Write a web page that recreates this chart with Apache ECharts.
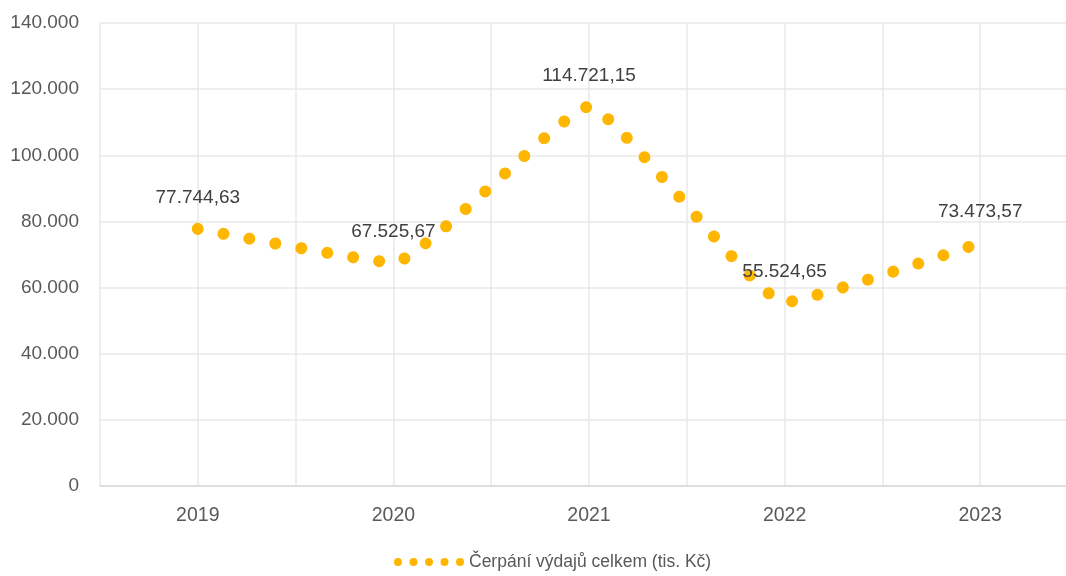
<!DOCTYPE html>
<html>
<head>
<meta charset="utf-8">
<script src="https://cdn.jsdelivr.net/npm/echarts@6/dist/echarts.min.js"></script>
<style>
  html, body { margin: 0; padding: 0; background: #fff; }
  #chart { width: 1066px; height: 576px; }
</style>
</head>
<body>
<div id="chart"></div>
<script>
// data
const years = [2019, 2020, 2021, 2022, 2023]
const spending = [77744.63, 67525.67, 114721.15, 55524.65, 73473.57]
const seriesName = 'Čerpání výdajů celkem (tis. Kč)'
const yTicks = [0, 20000, 40000, 60000, 80000, 100000, 120000, 140000]

const gold = '#FFB600'
const font = "'Liberation Sans', Arial, sans-serif"

// 140000 -> 140.000, 77744.63 -> 77.744,63
const fmtThousands = v => String(Math.round(v)).replace(/\B(?=(\d{3})+(?!\d))/g, '.')
const fmtValue = v => {
  const parts = v.toFixed(2).split('.')
  return fmtThousands(Number(parts[0])) + ',' + parts[1]
}

// five dots as legend icon
const dotsIcon = 'path://' + [4, 19.5, 35, 50.5, 66].map(cx =>
  `M${cx - 4},4a4,4 0 1,0 8,0a4,4 0 1,0 -8,0Z`).join('')

const chart = echarts.init(document.getElementById('chart'))
chart.setOption({
  animation: false,
  backgroundColor: '#fff',
  grid: { left: 100, right: -12, top: 23, bottom: 90, outerBoundsMode: 'none', containLabel: false },
  xAxis: {
    type: 'value',
    min: 2018.5,
    max: 2023.5,
    interval: 0.5,
    axisLine: { show: true, onZero: false, lineStyle: { color: '#D9D9D9', width: 1.5 } },
    axisTick: { show: false },
    splitLine: { show: true, lineStyle: { color: '#E8E8E8', width: 1.5 } },
    axisLabel: {
      margin: 20,
      color: '#595959',
      fontFamily: font,
      fontSize: 19.5,
      formatter: v => (years.includes(v) ? String(v) : '')
    }
  },
  yAxis: {
    type: 'value',
    min: yTicks[0],
    max: yTicks[yTicks.length - 1],
    interval: 20000,
    axisLine: { show: false },
    axisTick: { show: false },
    splitLine: { show: true, lineStyle: { color: '#E8E8E8', width: 1.5 } },
    axisLabel: {
      margin: 21,
      color: '#595959',
      fontFamily: font,
      fontSize: 19,
      formatter: v => fmtThousands(v)
    }
  },
  legend: {
    left: 389,
    bottom: 0,
    itemWidth: 70,
    itemHeight: 8,
    itemGap: 10,
    textStyle: { color: '#595959', fontFamily: font, fontSize: 17.5 },
    data: [{ name: seriesName, icon: dotsIcon, itemStyle: { color: gold } }]
  },
  series: [{
    name: seriesName,
    type: 'line',
    smooth: 0.12,
    data: years.map((y, i) => [y, spending[i]]),
    symbol: 'circle',
    symbolSize: 1,
    itemStyle: { color: 'rgba(0,0,0,0)' },
    lineStyle: { color: gold, width: 12, type: [0.01, 26.3], cap: 'round' },
    label: {
      show: true,
      position: 'top',
      distance: 21,
      color: '#404040',
      fontFamily: font,
      fontSize: 19,
      formatter: p => fmtValue(p.value[1])
    },
    emphasis: { disabled: true }
  }]
})
</script>
</body>
</html>
